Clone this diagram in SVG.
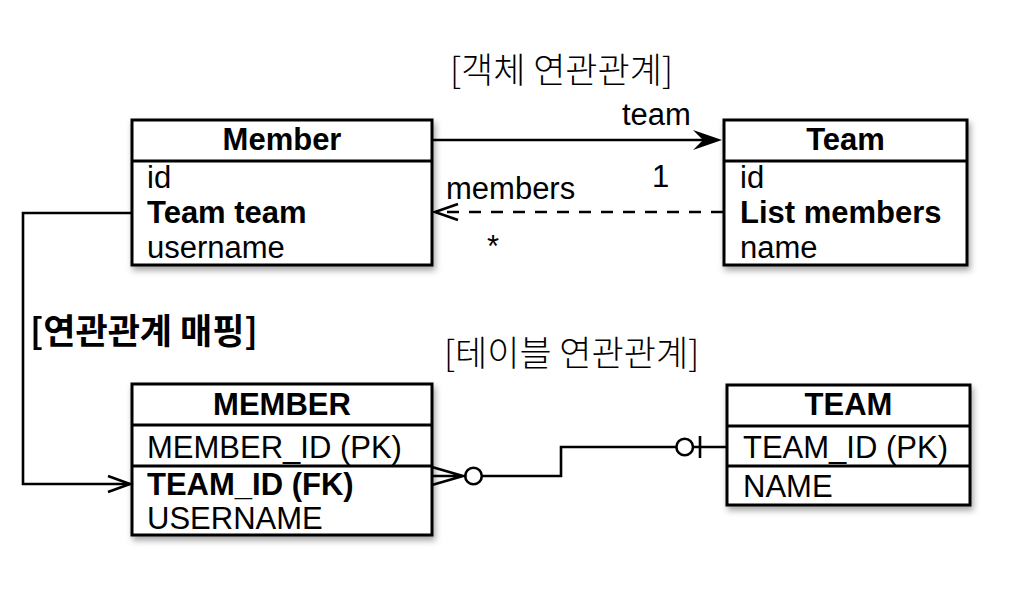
<svg xmlns="http://www.w3.org/2000/svg" width="1031" height="595" viewBox="0 0 1031 595">
<defs>
<filter id="sh" x="-10%" y="-10%" width="130%" height="140%">
<feDropShadow dx="2" dy="4" stdDeviation="3" flood-color="#000" flood-opacity="0.35"/>
</filter>
<style>
.box{fill:#fff;stroke:#000;stroke-width:3;filter:url(#sh)}
.div{stroke:#000;stroke-width:3}
.t{font-family:"Liberation Sans","Noto Sans CJK KR",sans-serif;font-size:31px;fill:#000}
.b{font-weight:bold}
.c{text-anchor:middle}
.k{font-family:"Noto Sans CJK KR","Liberation Sans",sans-serif;font-size:35px;fill:#000;font-weight:300}
.kb{font-family:"Noto Sans CJK KR","Liberation Sans",sans-serif;font-size:35px;fill:#000;font-weight:bold}
.ln{fill:none;stroke:#000;stroke-width:2.6}
</style>
</defs>
<rect width="1031" height="595" fill="#fff"/>
<g id="label-object" class="k"><text x="450" y="83">[객체 연관관계]</text></g>
<g id="label-table" class="k"><text x="444" y="366">[테이블 연관관계]</text></g>
<g id="label-mapping" class="kb"><text x="30" y="344">[연관관계 매핑]</text></g>

<g id="Member">
<rect class="box" x="132" y="120" width="300" height="145"/>
<line class="div" x1="132" y1="161" x2="432" y2="161"/>
<text class="t b c" x="282" y="150">Member</text>
<text class="t" x="147" y="188">id</text>
<text class="t b" x="147" y="223">Team team</text>
<text class="t" x="147" y="258">username</text>
</g>
<g id="Team">
<rect class="box" x="724" y="120" width="243" height="145"/>
<line class="div" x1="724" y1="161" x2="967" y2="161"/>
<text class="t b c" x="845.5" y="150">Team</text>
<text class="t" x="740" y="188">id</text>
<text class="t b" x="740" y="223">List members</text>
<text class="t" x="740" y="258">name</text>
</g>
<g id="MEMBER">
<rect class="box" x="132" y="384" width="300" height="151"/>
<line class="div" x1="132" y1="425" x2="432" y2="425"/>
<line class="div" x1="132" y1="466" x2="432" y2="466"/>
<text class="t b c" x="282" y="415">MEMBER</text>
<text class="t" x="147" y="458">MEMBER_ID (PK)</text>
<text class="t b" x="147" y="495">TEAM_ID (FK)</text>
<text class="t" x="147" y="529">USERNAME</text>
</g>
<g id="TEAM">
<rect class="box" x="727" y="385" width="243" height="120"/>
<line class="div" x1="727" y1="426" x2="970" y2="426"/>
<line class="div" x1="727" y1="466" x2="970" y2="466"/>
<text class="t b c" x="848.5" y="415">TEAM</text>
<text class="t" x="743" y="458">TEAM_ID (PK)</text>
<text class="t" x="743" y="497">NAME</text>
</g>

<g id="connectors">
<line class="ln" x1="432" y1="140" x2="705" y2="140"/>
<path d="M693,130 L722,140 L693,150 L703,140 Z" fill="#000"/>
<text class="t" x="622" y="125">team</text>
<line class="ln" x1="723" y1="212" x2="436" y2="212" stroke-dasharray="12 10"/>
<path class="ln" d="M458,204 L435,212 L458,220"/>
<text class="t" x="446" y="199">members</text>
<text class="t" x="652" y="187">1</text>
<text class="t" x="487" y="257">*</text>
<path class="ln" d="M132,213 H23 V484 H130"/>
<path class="ln" d="M108,476 L130,484 L108,492"/>
<path class="ln" d="M432,467 L463,476 L432,485 M432,476 H465"/>
<circle class="ln" cx="473.5" cy="476" r="8.3"/>
<path class="ln" d="M481.8,476 H561 V447 H676.3"/>
<circle class="ln" cx="684.7" cy="447" r="8.3"/>
<path class="ln" d="M700,436 V458 M693,447 H727"/>
</g>
</svg>
